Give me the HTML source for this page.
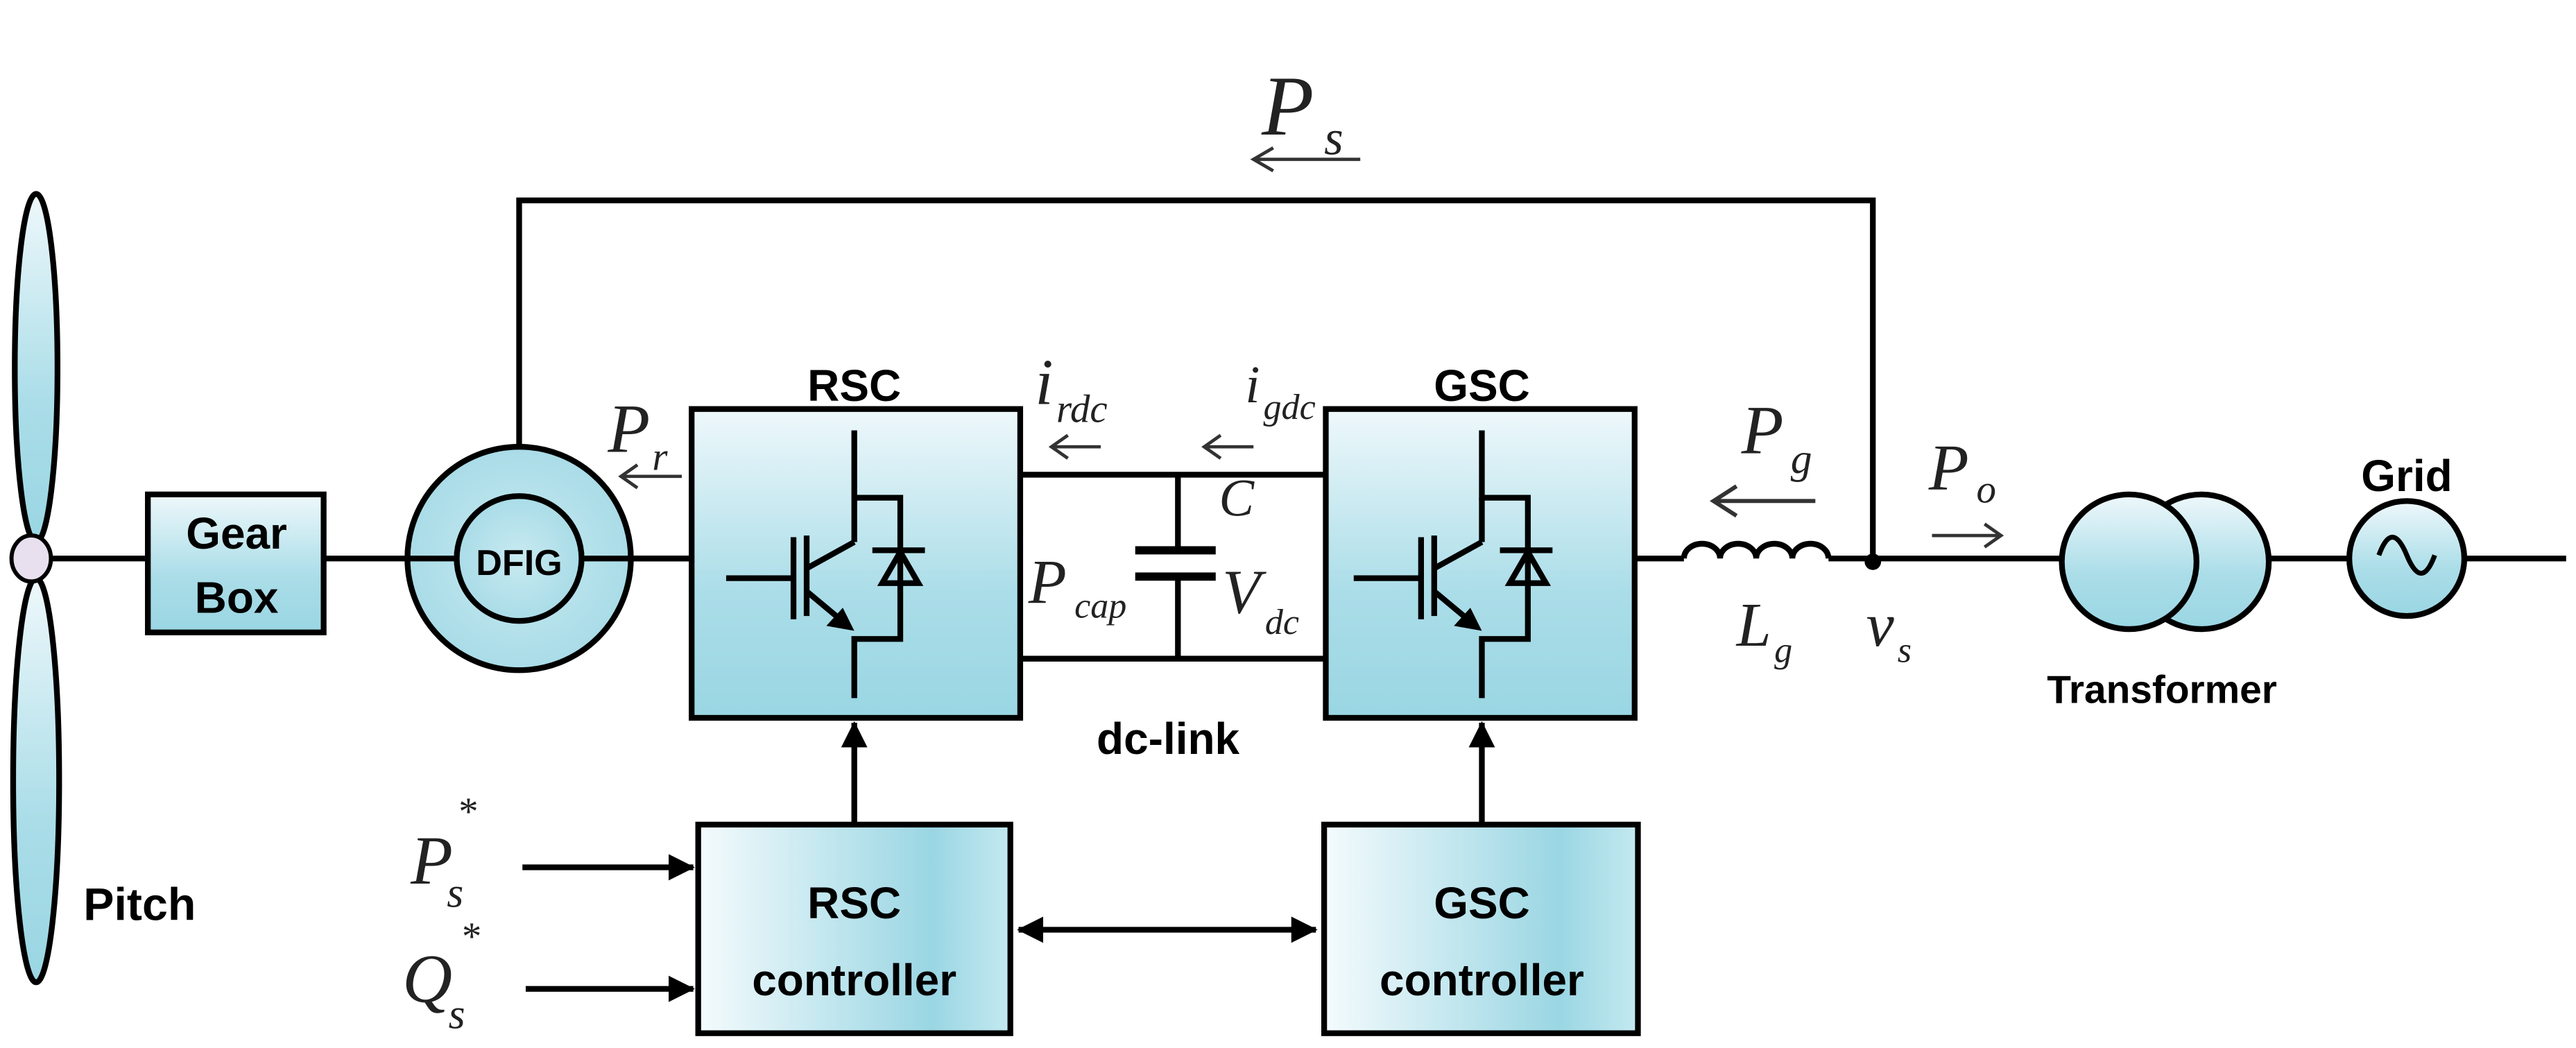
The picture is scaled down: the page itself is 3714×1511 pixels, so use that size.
<!DOCTYPE html>
<html><head><meta charset="utf-8"><style>
html,body{margin:0;padding:0;background:#fff;}
svg{display:block;}
.b{font-family:"Liberation Sans",sans-serif;font-weight:bold;fill:#000;}
.m{font-family:"Liberation Serif",serif;font-style:italic;fill:#222;}
</style></head><body>
<svg width="3714" height="1511" viewBox="0 0 1568 638" preserveAspectRatio="none" xmlns="http://www.w3.org/2000/svg">
<defs>
<linearGradient id="gv" x1="0" y1="0" x2="0" y2="1"><stop offset="0" stop-color="#eef8fb"/><stop offset="0.6" stop-color="#aadde8"/><stop offset="1" stop-color="#9ad6e3"/></linearGradient>
<linearGradient id="gh" x1="0" y1="0" x2="1" y2="0"><stop offset="0" stop-color="#f4fbfd"/><stop offset="0.75" stop-color="#9ad6e3"/><stop offset="1" stop-color="#c4e9f0"/></linearGradient>
<radialGradient id="gc" cx="0.5" cy="0.5" r="0.6"><stop offset="0" stop-color="#c8eaf1"/><stop offset="1" stop-color="#a3d9e5"/></radialGradient>
<marker id="ah2" markerWidth="16" markerHeight="16" refX="15" refY="8" orient="auto-start-reverse" markerUnits="userSpaceOnUse"><path d="M0,0 L16,8 L0,16 z" fill="#000"/></marker>
</defs>
<g stroke="#000" stroke-width="3.5" fill="none">
<ellipse cx="22" cy="224" rx="13" ry="106" fill="url(#gv)"/>
<ellipse cx="22" cy="475" rx="14" ry="123" fill="url(#gv)"/>
<ellipse cx="19" cy="340" rx="12" ry="14" fill="#e8e0ee" stroke-width="2.5"/>
<line x1="30" y1="340" x2="90" y2="340"/>
<rect x="90" y="301" width="107" height="84" fill="url(#gv)"/>
<line x1="197" y1="340" x2="420" y2="340"/>
<circle cx="316" cy="340" r="68" fill="url(#gc)"/>
<circle cx="316" cy="340" r="38" fill="url(#gc)"/>
<line x1="248" y1="340" x2="278" y2="340"/><line x1="354" y1="340" x2="420" y2="340"/>
<polyline points="316,272 316,122 1140,122 1140,340"/>
<rect x="421" y="249" width="200" height="188" fill="url(#gv)"/>
<rect x="807" y="249" width="188" height="188" fill="url(#gv)"/>
<line x1="621" y1="289" x2="807" y2="289"/>
<line x1="621" y1="401" x2="807" y2="401"/>
<line x1="717" y1="289" x2="717" y2="335"/><line x1="717" y1="351" x2="717" y2="401"/>
<line x1="691" y1="335" x2="740" y2="335" stroke-width="5"/><line x1="691" y1="351" x2="740" y2="351" stroke-width="5"/>
<line x1="995" y1="340" x2="1025" y2="340"/>
<path d="M1025,340 a11,9 0 0 1 22,0 a11,9 0 0 1 22,0 a11,9 0 0 1 22,0 a11,9 0 0 1 22,0"/>
<line x1="1113" y1="340" x2="1255" y2="340"/>
<circle cx="1340" cy="342" r="41" fill="url(#gv)"/>
<circle cx="1296" cy="342" r="41" fill="url(#gv)"/>
<line x1="1381" y1="340" x2="1430" y2="340"/>
<circle cx="1465" cy="340" r="35" fill="url(#gv)"/>
<path d="M1448,338 q8,-22 17,0 q9,22 17,0" stroke-width="3"/>
<line x1="1500" y1="340" x2="1562" y2="340"/>
<rect x="425" y="502" width="190" height="127" fill="url(#gh)"/>
<rect x="806" y="502" width="191" height="127" fill="url(#gh)"/>
<line x1="520" y1="502" x2="520" y2="440" marker-end="url(#ah2)"/>
<line x1="902" y1="502" x2="902" y2="440" marker-end="url(#ah2)"/>
<line x1="620" y1="566" x2="801" y2="566" marker-start="url(#ah2)" marker-end="url(#ah2)"/>
<line x1="318" y1="528" x2="422" y2="528" marker-end="url(#ah2)"/>
<line x1="320" y1="602" x2="422" y2="602" marker-end="url(#ah2)"/>
</g>
<circle cx="1140" cy="342" r="5" fill="#000"/>
<g id="sw" stroke="#000" stroke-width="3.5" fill="none">
<polyline points="520,262 520,303 548,303 548,389 520,389 520,425"/>
<line x1="520" y1="303" x2="520" y2="330"/>
<line x1="442" y1="352" x2="483" y2="352"/>
<line x1="483" y1="327" x2="483" y2="377"/>
<line x1="491" y1="326" x2="491" y2="375"/>
<line x1="491" y1="346" x2="520" y2="330"/>
<line x1="491" y1="360" x2="515" y2="380"/>
<line x1="531" y1="335" x2="563" y2="335"/>
<path d="M548,336 L537,355 L559,355 Z"/>
<path d="M520,384 L503,381 L513,370 Z" fill="#000" stroke="none"/>
</g>
<use href="#sw" x="382" y="0"/>
<g stroke="#333" stroke-width="2" fill="none">
<path d="M763,97 H828 M775,90 L763,97 L775,104"/>
<path d="M378,290 H415 M388,283 L378,290 L388,297"/>
<path d="M640,272 H670 M650,265 L640,272 L650,279"/>
<path d="M733,272 H763 M743,265 L733,272 L743,279"/>
<path d="M1043,305 H1105 M1057,296 L1043,305 L1057,314" stroke-width="2.5"/>
<path d="M1176,326 H1218 M1208,319 L1218,326 L1208,333"/>
</g>
<g class="b" font-size="27" text-anchor="middle">
<text x="144" y="334">Gear</text><text x="144" y="373">Box</text>
<text x="316" y="350" font-size="22">DFIG</text>
<text x="520" y="244">RSC</text>
<text x="902" y="244">GSC</text>
<text x="711" y="459">dc-link</text>
<text x="1465" y="299">Grid</text>
<text x="1316" y="428" font-size="24">Transformer</text>
<text x="85" y="560" font-size="28">Pitch</text>
<text x="520" y="559">RSC</text><text x="520" y="606">controller</text>
<text x="902" y="559">GSC</text><text x="902" y="606">controller</text>
</g>
<g class="m">
<text x="768" y="82" font-size="52">P</text><text x="806" y="94" font-size="30">s</text>
<text x="370" y="275" font-size="42">P</text><text x="397" y="286" font-size="24">r</text>
<text x="630" y="246" font-size="40">i</text><text x="643" y="257" font-size="24">rdc</text>
<text x="758" y="245" font-size="32">i</text><text x="769" y="255" font-size="22">gdc</text>
<text x="742" y="314" font-size="32">C</text>
<text x="626" y="367" font-size="38">P</text><text x="654" y="376" font-size="22">cap</text>
<text x="744" y="373" font-size="38">V</text><text x="770" y="386" font-size="22">dc</text>
<text x="1060" y="276" font-size="42">P</text><text x="1090" y="288" font-size="26">g</text>
<text x="1174" y="298" font-size="40">P</text><text x="1203" y="306" font-size="24">o</text>
<text x="1057" y="393" font-size="38">L</text><text x="1080" y="403" font-size="22">g</text>
<text x="1136" y="393" font-size="38">v</text><text x="1155" y="403" font-size="22">s</text>
<text x="250" y="538" font-size="42">P</text><text x="272" y="552" font-size="26">s</text><text x="278" y="502" font-size="24">*</text>
<text x="245" y="610" font-size="42">Q</text><text x="273" y="626" font-size="26">s</text><text x="280" y="578" font-size="24">*</text>
</g>
</svg>
</body></html>
